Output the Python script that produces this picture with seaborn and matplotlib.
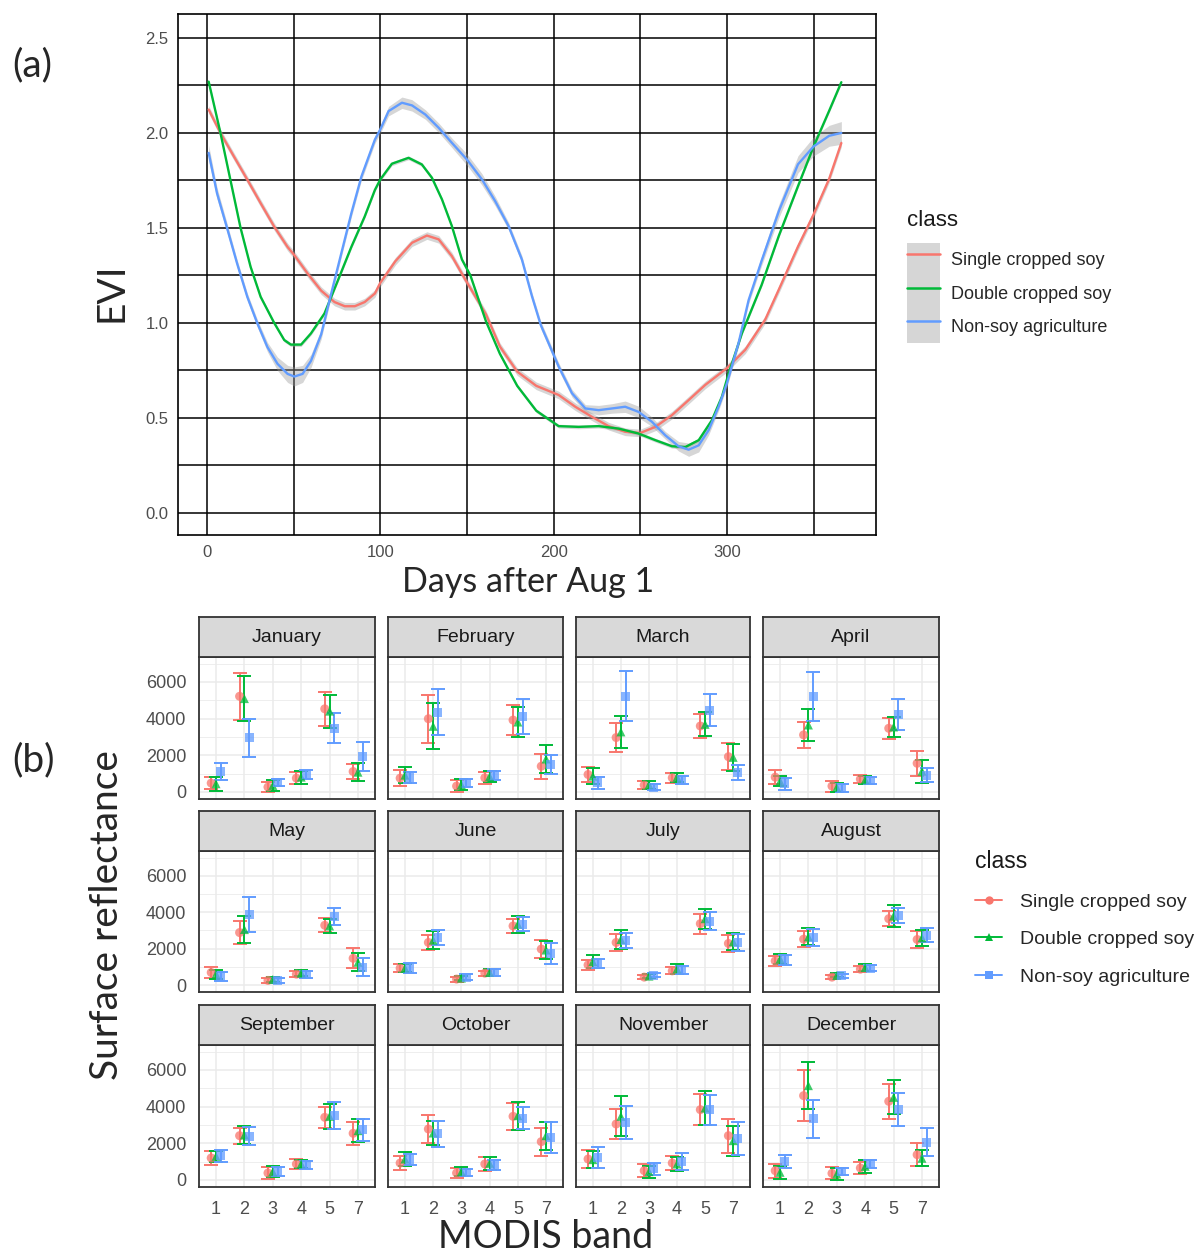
import matplotlib
matplotlib.use("Agg")
import matplotlib.pyplot as plt
import numpy as np
import pandas as pd
import seaborn as sns
from matplotlib.lines import Line2D
from matplotlib.patches import Patch
from matplotlib.legend_handler import HandlerTuple
from matplotlib.ticker import FixedLocator

sns.set_style("white")
plt.rcParams["font.family"] = ["Liberation Sans", "DejaVu Sans"]

classes = ["Single cropped soy", "Double cropped soy", "Non-soy agriculture"]
colors = ["#F8766D", "#00BA38", "#619CFF"]
palette = dict(zip(classes, colors))
markers = dict(zip(classes, ["o", "^", "s"]))

# ---- (a) smoothed EVI profiles -------------------------------------------
single_days = [1, 7.8, 15.5, 23.3, 31, 38.8, 46.5, 50.4, 58.1, 65.9, 73.6, 79.5, 85.3, 91,
               96.9, 100, 108.7, 118.3, 126.9, 133.7, 141.3, 149, 161, 169, 179, 190, 202.9,
               212.5, 222.1, 231.7, 241.3, 250, 258.7, 268.3, 277.9, 287.5, 300, 310.6,
               322.1, 330, 341, 350, 359, 366]
single_evi = [2.123, 2.0, 1.877, 1.754, 1.63, 1.507, 1.40, 1.357, 1.26, 1.17, 1.11, 1.088,
              1.088, 1.11, 1.155, 1.211, 1.325, 1.422, 1.46, 1.44, 1.352, 1.229, 1.045,
              0.876, 0.744, 0.669, 0.621, 0.559, 0.506, 0.457, 0.427, 0.421, 0.453, 0.515,
              0.594, 0.674, 0.762, 0.859, 1.018, 1.177, 1.402, 1.571, 1.759, 1.947]
single_se = [0.02] * 44

double_days = [1, 7.8, 13.6, 19.4, 25.2, 31, 38.8, 44.6, 48.4, 54.3, 60, 67.8, 75.6, 83.3,
               91, 96.9, 100, 106.7, 116.3, 124, 129.8, 135.6, 141.3, 147.1, 152, 161, 169,
               179, 190, 202.9, 214.4, 226, 237.5, 249, 258.7, 268.3, 276, 283.7, 291.3,
               297.1, 301, 308.7, 320, 330, 341, 350, 359, 366]
double_evi = [2.27, 2.0, 1.75, 1.5, 1.295, 1.137, 1.0, 0.91, 0.886, 0.886, 0.945, 1.05,
              1.225, 1.40, 1.56, 1.70, 1.755, 1.838, 1.869, 1.834, 1.764, 1.65, 1.51, 1.334,
              1.25, 1.008, 0.838, 0.669, 0.538, 0.457, 0.453, 0.457, 0.444, 0.418, 0.383,
              0.351, 0.347, 0.383, 0.488, 0.612, 0.735, 0.947, 1.2, 1.46, 1.72, 1.929,
              2.117, 2.267]
double_se = [0.01] * 48

nonsoy_days = [1, 5.8, 11.6, 17.4, 23.3, 29, 34.9, 40.7, 46.5, 50.4, 55.2, 60, 65.9, 71.7,
               77.5, 83.3, 89.1, 96.9, 100, 104.8, 112.5, 118.3, 126, 133.7, 141.3, 150,
               158.7, 166.3, 174, 181.7, 187.5, 192.6, 202.9, 210.6, 218.3, 226, 233.7,
               241.3, 249, 256.7, 264.4, 272.1, 277.9, 283.7, 289.4, 295.2, 300, 306.7,
               312.5, 320, 330, 341, 350, 359, 366]
nonsoy_evi = [1.895, 1.683, 1.50, 1.313, 1.137, 1.0, 0.873, 0.785, 0.732, 0.718, 0.732,
              0.80, 0.94, 1.155, 1.366, 1.577, 1.77, 1.965, 2.018, 2.115, 2.159, 2.145,
              2.097, 2.027, 1.948, 1.86, 1.755, 1.641, 1.51, 1.334, 1.141, 0.989, 0.771,
              0.63, 0.55, 0.541, 0.55, 0.559, 0.532, 0.48, 0.409, 0.351, 0.333, 0.356,
              0.435, 0.559, 0.682, 0.894, 1.12, 1.327, 1.59, 1.835, 1.929, 1.985, 2.0]
nonsoy_se = [0.04, 0.03, 0.025, 0.02, 0.02, 0.02, 0.025, 0.035, 0.045, 0.05,
             0.045, 0.035, 0.025, 0.02, 0.02, 0.02, 0.02, 0.02, 0.02, 0.025,
             0.03, 0.03, 0.025, 0.025, 0.025, 0.03, 0.03, 0.025, 0.02, 0.02,
             0.02, 0.02, 0.02, 0.02, 0.02, 0.025, 0.025, 0.03, 0.03, 0.025,
             0.02, 0.025, 0.035, 0.035, 0.025, 0.02, 0.02, 0.02, 0.02, 0.025,
             0.035, 0.045, 0.05, 0.055, 0.06]

# ---- (b) monthly surface reflectance by MODIS band --------------------------
months = ["January", "February", "March", "April", "May", "June", "July",
          "August", "September", "October", "November", "December"]
band_labels = ["1", "2", "3", "4", "5", "7"]

single_mean = [
    [486, 5220, 270, 756, 4536, 1116], [756, 3996, 324, 774, 3924, 1404],
    [954, 2970, 378, 774, 3600, 1926], [810, 3114, 324, 702, 3474, 1566],
    [689, 2883, 254, 598, 3282, 1469], [925, 2339, 326, 653, 3245, 1976],
    [1106, 2339, 435, 780, 3372, 2284], [1323, 2520, 435, 870, 3644, 2502],
    [1200, 2418, 382, 873, 3418, 2545], [927, 2782, 382, 873, 3472, 2091],
    [1145, 3054, 509, 927, 3836, 2418], [509, 4600, 364, 654, 4290, 1382]]
single_err = [
    [315, 1278, 270, 342, 918, 414], [430, 1300, 340, 340, 830, 690],
    [400, 780, 200, 260, 670, 730], [390, 720, 300, 225, 580, 680],
    [290, 635, 130, 150, 380, 545], [220, 410, 135, 135, 370, 515],
    [270, 450, 90, 200, 545, 480], [270, 450, 110, 150, 425, 450],
    [360, 435, 320, 250, 590, 620], [400, 780, 250, 360, 745, 765],
    [500, 845, 345, 365, 835, 935], [390, 1400, 320, 320, 955, 610]]

double_mean = [
    [450, 5094, 360, 810, 4410, 1080], [918, 3582, 396, 846, 3816, 1800],
    [864, 3276, 396, 810, 3690, 1890], [594, 3654, 252, 666, 3546, 1134],
    [598, 3046, 308, 653, 3245, 1251], [925, 2466, 381, 689, 3336, 1922],
    [1287, 2502, 490, 888, 3644, 2375], [1432, 2647, 526, 961, 3789, 2593],
    [1291, 2454, 455, 873, 3472, 2690], [1145, 2563, 455, 909, 3509, 2418],
    [1109, 3472, 455, 873, 3927, 2145], [418, 5145, 327, 745, 4508, 1182]]
double_err = [
    [380, 1230, 290, 350, 900, 490], [450, 1260, 300, 280, 840, 760],
    [450, 860, 220, 240, 650, 740], [280, 870, 240, 225, 560, 620],
    [245, 725, 130, 180, 400, 500], [230, 500, 130, 210, 460, 470],
    [360, 545, 100, 260, 560, 470], [300, 470, 110, 180, 615, 425],
    [300, 490, 300, 230, 680, 620], [390, 680, 250, 345, 755, 770],
    [480, 1090, 320, 365, 935, 820], [365, 1270, 320, 345, 925, 430]]

nonsoy_mean = [
    [1116, 2952, 504, 954, 3474, 1944], [810, 4356, 486, 900, 4140, 1494],
    [504, 5220, 270, 666, 4464, 1080], [450, 5220, 234, 630, 4230, 918],
    [471, 3862, 236, 562, 3771, 979], [925, 2611, 417, 689, 3336, 1740],
    [1160, 2466, 526, 834, 3499, 2339], [1378, 2611, 508, 925, 3825, 2738],
    [1309, 2382, 455, 818, 3509, 2727], [1109, 2509, 418, 818, 3381, 2327],
    [1236, 3145, 600, 1018, 3818, 2273], [1018, 3327, 455, 873, 3836, 2054]]
nonsoy_err = [
    [450, 1030, 190, 230, 810, 780], [300, 1270, 200, 240, 950, 520],
    [340, 1370, 180, 225, 860, 400], [315, 1350, 210, 180, 830, 380],
    [245, 960, 130, 200, 480, 500], [290, 400, 165, 170, 380, 590],
    [245, 415, 110, 210, 500, 490], [270, 470, 120, 160, 410, 400],
    [320, 500, 250, 230, 730, 590], [300, 730, 200, 250, 590, 845],
    [570, 890, 310, 470, 820, 910], [365, 1055, 200, 230, 910, 770]]

# ---- tidy tables ------------------------------------------------------------
evi_parts = []
for cls, d, v, s in zip(classes,
                        [single_days, double_days, nonsoy_days],
                        [single_evi, double_evi, nonsoy_evi],
                        [single_se, double_se, nonsoy_se]):
    evi_parts.append(pd.DataFrame({"class": cls, "day": d, "evi": v, "se": s}))
evi = pd.concat(evi_parts, ignore_index=True)

dodge = dict(zip(classes, [-0.17, 0.0, 0.17]))
rows = []
for cls, means, errs in zip(classes, [single_mean, double_mean, nonsoy_mean],
                            [single_err, double_err, nonsoy_err]):
    for m, month in enumerate(months):
        for b, band in enumerate(band_labels):
            rows.append({"class": cls, "month": month, "band": band,
                         "pos": b + dodge[cls], "refl": means[m][b], "err": errs[m][b]})
refl = pd.DataFrame(rows)

# ---- figure -----------------------------------------------------------------
W, H = 1200, 1256
fig = plt.figure(figsize=(W / 100, H / 100), dpi=100)


def rect(x0, y0, x1, y1):
    return [x0 / W, 1 - y1 / H, (x1 - x0) / W, (y1 - y0) / H]


label_font = ["Lato", "DejaVu Sans"]

# (a) EVI
ax = fig.add_axes(rect(178, 14, 876, 535))
for cls in classes:
    s = evi[evi["class"] == cls]
    ax.fill_between(s["day"], s["evi"] - s["se"], s["evi"] + s["se"],
                    color="#999999", alpha=0.4, lw=0, zorder=2)
sns.lineplot(data=evi, x="day", y="evi", hue="class", hue_order=classes,
             palette=palette, lw=1.7, errorbar=None, legend=False, ax=ax, zorder=3)
ax.set_xlim(-16.7, 386)
ax.set_ylim(-0.116, 2.626)
ax.set_xticks([0, 100, 200, 300])
ax.xaxis.set_minor_locator(FixedLocator([50, 150, 250, 350]))
yt = np.arange(0, 2.51, 0.5)
ax.set_yticks(yt)
ax.set_yticklabels([f"{v:.1f}" for v in yt])
ax.yaxis.set_minor_locator(FixedLocator(np.arange(0.25, 2.5, 0.5)))
ax.grid(True, which="both", color="black", lw=1.1, zorder=0)
ax.set_axisbelow(True)
ax.tick_params(which="major", length=4, width=1, color="black",
               labelsize=12, labelcolor="#4D4D4D", pad=3)
ax.tick_params(which="minor", length=0)
for sp in ax.spines.values():
    sp.set_color("black")
    sp.set_linewidth(1.2)
ax.set_xlabel("")
ax.set_ylabel("")

fig.text(907 / W, 1 - 221 / H, "class", fontsize=16, ha="left", va="center", color="#1A1A1A")
handles_a = [(Patch(facecolor="#D6D6D6", edgecolor="none"),
              Line2D([], [], color=c, lw=1.8)) for c in colors]
fig.legend(handles_a, classes, loc="upper left", bbox_to_anchor=(907 / W, 1 - 243 / H),
           frameon=False, fontsize=13, handlelength=1.85, handleheight=2.475,
           labelspacing=0, handletextpad=0.6, borderpad=0, borderaxespad=0,
           handler_map={tuple: HandlerTuple(ndivide=1, pad=0)})

# (b) reflectance facets
cols_px = [(199, 375), (388, 563), (576, 750), (763, 939)]
rows_px = [(657, 799), (851, 992), (1045, 1187)]
for i, month in enumerate(months):
    r, c = divmod(i, 4)
    x0, x1 = cols_px[c]
    y0, y1 = rows_px[r]
    fax = fig.add_axes(rect(x0, y0, x1, y1))
    sub = refl[refl["month"] == month]
    for cls in classes:
        s = sub[sub["class"] == cls]
        fax.errorbar(s["pos"], s["refl"], yerr=s["err"], fmt="none", ecolor=palette[cls],
                     elinewidth=1.4, capsize=5, capthick=1.4, zorder=3)
    sns.scatterplot(data=sub, x="pos", y="refl", hue="class", style="class",
                    hue_order=classes, style_order=classes, palette=palette,
                    markers=markers, s=42, alpha=0.75, edgecolor="none",
                    legend=False, ax=fax, zorder=4)
    fax.set_xlim(-0.6, 5.6)
    fax.set_ylim(-382, 7363)
    fax.set_xticks(range(len(band_labels)))
    fax.set_yticks([0, 2000, 4000, 6000])
    fax.yaxis.set_minor_locator(FixedLocator([1000, 3000, 5000, 7000]))
    fax.grid(True, which="major", color="#EBEBEB", lw=1.1, zorder=0)
    fax.grid(True, which="minor", axis="y", color="#EBEBEB", lw=0.6, zorder=0)
    fax.set_axisbelow(True)
    fax.tick_params(which="minor", length=0)
    fax.tick_params(axis="both", which="major", length=4, width=1, color="#333333",
                    labelsize=13, labelcolor="#4D4D4D")
    fax.tick_params(axis="x", pad=6)
    fax.tick_params(axis="y", pad=5)
    if r == 2:
        fax.set_xticklabels(band_labels)
    else:
        fax.set_xticklabels([])
        fax.tick_params(axis="x", length=0)
    if c == 0:
        fax.set_yticklabels(["0", "2000", "4000", "6000"])
    else:
        fax.set_yticklabels([])
        fax.tick_params(axis="y", length=0)
    for sp in fax.spines.values():
        sp.set_color("#333333")
        sp.set_linewidth(1.3)
    fax.set_xlabel("")
    fax.set_ylabel("")

    strip = fig.add_axes(rect(x0, y0 - 40, x1, y0))
    strip.set_facecolor("#D9D9D9")
    strip.set_xticks([])
    strip.set_yticks([])
    for sp in strip.spines.values():
        sp.set_color("#333333")
        sp.set_linewidth(1.3)
    strip.text(0.5, 0.5, month, transform=strip.transAxes, ha="center", va="center",
               fontsize=14, color="#1A1A1A")

handles_b = [Line2D([], [], color=palette[cls], marker=markers[cls], markersize=6,
                    lw=1.4, markeredgewidth=0) for cls in classes]
leg_b = fig.legend(handles_b, classes, loc="upper left",
                   bbox_to_anchor=(975 / W, 1 - 850 / H), frameon=False, title="class",
                   fontsize=14, title_fontsize=16.5, alignment="left", handlelength=1.4,
                   handletextpad=0.9, labelspacing=1.03, borderpad=0, borderaxespad=0)
leg_b.get_title().set_color("#1A1A1A")

# outer annotations
fig.text(12 / W, 1 - 65 / H, "(a)", fontsize=28, family=label_font, ha="left", va="center")
fig.text(12 / W, 1 - 760 / H, "(b)", fontsize=28, family=label_font, ha="left", va="center")
fig.text(112 / W, 1 - 292 / H, "EVI", fontsize=28, family=label_font, rotation=90,
         ha="center", va="center")
fig.text(528 / W, 1 - 582 / H, "Days after Aug 1", fontsize=24.5, family=label_font,
         ha="center", va="center")
fig.text(107 / W, 1 - 915 / H, "Surface reflectance", fontsize=28, family=label_font,
         rotation=90, ha="center", va="center")
fig.text(546 / W, 1 - 1255 / H, "MODIS band", fontsize=27, family=label_font,
         ha="center", va="bottom")

fig.savefig("out.png", dpi=100, facecolor="white")
